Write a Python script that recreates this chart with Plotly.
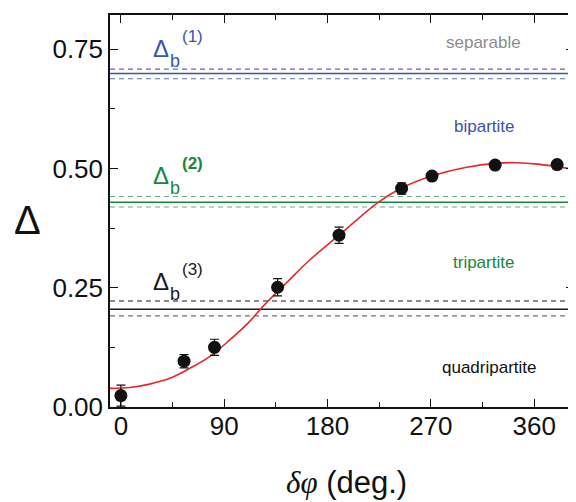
import plotly.graph_objects as go

# ---- data ----
phase_deg = [0, 55, 81.5, 136.5, 190, 244.5, 271, 326, 380]
delta_vals = [0.024, 0.096, 0.125, 0.251, 0.360, 0.458, 0.484, 0.507, 0.508]
delta_err = [0.022, 0.014, 0.017, 0.018, 0.017, 0.012, 0.006, 0.005, 0.007]

fit_x = [-9.5, 7.8, 25, 42.5, 60, 77, 94.6, 112, 121.5, 129, 146.6, 164, 190,
         224.7, 244.6, 270.7, 300, 328.8, 343.5, 363.5, 394.7]
fit_y = [0.039, 0.041, 0.048, 0.060, 0.081, 0.105, 0.140, 0.179, 0.205, 0.224,
         0.266, 0.307, 0.360, 0.430, 0.459, 0.484, 0.502, 0.511, 0.512, 0.509, 0.498]

bound_solid = [0.699, 0.429, 0.205]
bound_upper = [0.708, 0.441, 0.222]
bound_lower = [0.688, 0.419, 0.191]
bound_colors = ["#3a55a6", "#16883c", "#1a1a1a"]
dash_colors_up = ["#6a66b0", "#6aa982", "#1a1a1a"]
dash_colors_lo = ["#5b6cb2", "#6aa982", "#707070"]

region_labels = ["separable", "bipartite", "tripartite", "quadripartite"]
region_x = [316, 316, 316, 321]
region_y = [0.763, 0.587, 0.302, 0.082]
region_colors = ["#8c8c8c", "#3a55a6", "#16883c", "#111111"]

bound_sup = ["(1)", "(2)", "(3)"]
delta_lab_y = [0.751, 0.486, 0.263]

x_range = [-9.5, 394.7]
y_range = [0.0, 0.8215]
x_ticks = [0, 90, 180, 270, 360]
y_ticks = [0.00, 0.25, 0.50, 0.75]
y_tick_text = ["0.00", "0.25", "0.50", "0.75"]

FONT = "Liberation Sans, Arial, sans-serif"

fig = go.Figure()

fig.add_trace(go.Scatter(
    x=fit_x, y=fit_y, mode="lines", line=dict(color="#e8262a", width=1.6, shape="spline"),
    showlegend=False, hoverinfo="skip"))

fig.add_trace(go.Scatter(
    x=phase_deg, y=delta_vals, mode="markers",
    marker=dict(color="#111111", size=13),
    error_y=dict(type="data", array=delta_err, color="#111111", thickness=1.2, width=4.5),
    showlegend=False))

shapes = []
for i in range(3):
    shapes.append(dict(type="line", xref="paper", x0=0, x1=1, yref="y",
                       y0=bound_solid[i], y1=bound_solid[i],
                       line=dict(color=bound_colors[i], width=1.6), layer="below"))
    shapes.append(dict(type="line", xref="paper", x0=0, x1=1, yref="y",
                       y0=bound_upper[i], y1=bound_upper[i],
                       line=dict(color=dash_colors_up[i], width=1.1, dash="5px,4px"), layer="below"))
    shapes.append(dict(type="line", xref="paper", x0=0, x1=1, yref="y",
                       y0=bound_lower[i], y1=bound_lower[i],
                       line=dict(color=dash_colors_lo[i], width=1.1, dash="5px,4px"), layer="below"))

annotations = []
for t, xx, yy, c in zip(region_labels, region_x, region_y, region_colors):
    annotations.append(dict(x=xx, y=yy, xref="x", yref="y", text=t, showarrow=False,
                            xanchor="center", yanchor="middle",
                            font=dict(family=FONT, size=17, color=c)))

for i in range(3):
    c = bound_colors[i]
    yy = delta_lab_y[i]
    annotations.append(dict(x=34.7, y=yy, xref="x", yref="y", text="Δ", showarrow=False,
                            xanchor="center", yanchor="middle",
                            font=dict(family=FONT, size=24, color=c)))
    annotations.append(dict(x=47, y=yy - 0.026, xref="x", yref="y", text="b", showarrow=False,
                            xanchor="center", yanchor="middle",
                            font=dict(family=FONT, size=18, color=c)))
    sup = "<b>" + bound_sup[i] + "</b>" if i == 1 else bound_sup[i]
    annotations.append(dict(x=62, y=yy + 0.025, xref="x", yref="y", text=sup, showarrow=False,
                            xanchor="center", yanchor="middle",
                            font=dict(family=FONT, size=17, color=c)))

annotations.append(dict(x=-0.178, y=0.477, xref="paper", yref="paper", text="Δ",
                        xanchor="center", yanchor="middle",
                        showarrow=False, font=dict(family=FONT, size=40, color="#111111")))
annotations.append(dict(x=0.509, y=-0.192, xref="paper", yref="paper",
                        xanchor="center", yanchor="middle",
                        text="<span style='font-family:Liberation Serif'><i>δφ</i></span> (deg.)",
                        showarrow=False, font=dict(family=FONT, size=31, color="#111111")))

axis_common = dict(showgrid=False, zeroline=False, showline=True, linecolor="#111111",
                   linewidth=1.5, mirror="ticks", ticks="inside", ticklen=8, tickwidth=1.2,
                   tickcolor="#111111", tickfont=dict(family=FONT, size=26, color="#111111"))

fig.update_xaxes(range=x_range, tickvals=x_ticks, ticklabelstandoff=-5,
                 minor=dict(ticks="inside", ticklen=5, dtick=45, tick0=45, tickcolor="#111111"),
                 **axis_common)
fig.update_yaxes(range=y_range, tickvals=y_ticks, ticktext=y_tick_text, ticklabelstandoff=0,
                 minor=dict(ticks="inside", ticklen=5, dtick=0.125, tick0=0.125, tickcolor="#111111"),
                 **axis_common)

# the page body adds an 8px offset; the figure is sized to fit the 576x502 window
fig.update_layout(width=568, height=494, margin=dict(l=102, r=0, t=7, b=95),
                  plot_bgcolor="white", paper_bgcolor="white",
                  shapes=shapes, annotations=annotations, showlegend=False)

fig.write_html("out.html")
